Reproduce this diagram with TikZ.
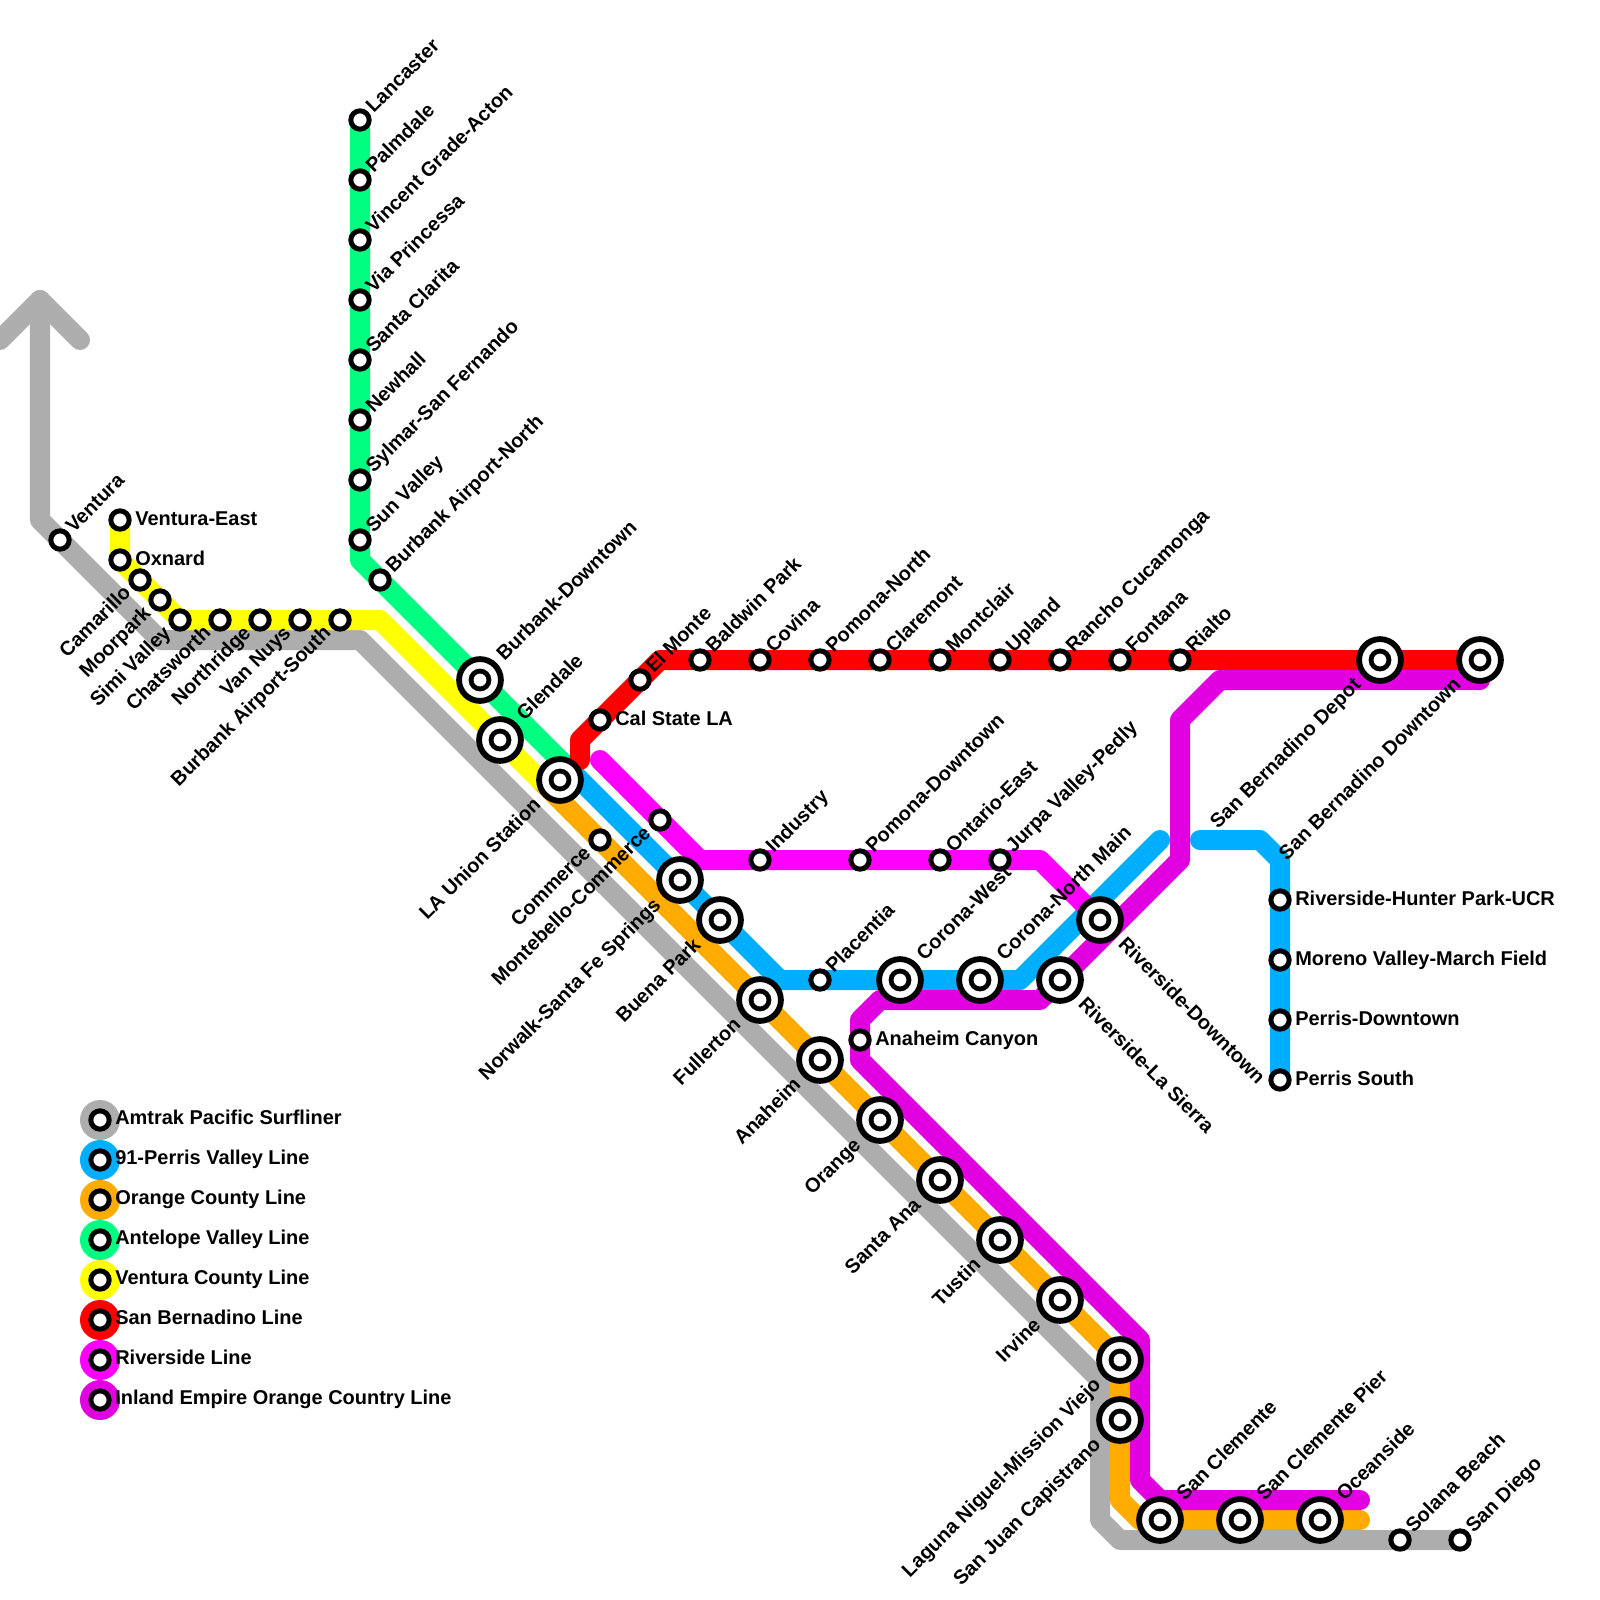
\documentclass[tikz,border=0pt]{standalone}
\usepackage{fontspec}
\setmainfont{Liberation Sans}
\usepackage{tikz}
\usetikzlibrary{backgrounds}
\usepackage{xcolor}
\definecolor{amtrak}{HTML}{ADADAD}
\definecolor{perris}{HTML}{00AEFF}
\definecolor{orangeco}{HTML}{FFAB00}
\definecolor{antelope}{HTML}{00FF80}
\definecolor{ventura}{HTML}{FFFF00}
\definecolor{sanbern}{HTML}{FF0000}
\definecolor{riverside}{HTML}{FF00FF}
\definecolor{inland}{HTML}{E000E0}

\begin{document}
\begin{tikzpicture}[
    x=0.025cm, y=-0.025cm,
    route/.style={draw, line width=0.5cm, line join=round, line cap=round},
    stop/.style={circle, draw=black, fill=white, line width=0.125cm, inner sep=0pt, outer sep=0pt, minimum size=0.458cm},
    hub/.style={circle, draw=black, fill=white, line width=0.145cm, inner sep=0pt, outer sep=0pt, minimum size=1.045cm,
      path picture={\fill[black] (path picture bounding box.center) circle (0.285cm);
        \fill[white] (path picture bounding box.center) circle (0.16cm);}},
    swatch/.style={circle, inner sep=0pt, outer sep=0pt, minimum size=1cm},
    lbl/.style={inner sep=0pt, font=\bfseries\fontsize{14.2}{16}\selectfont},
    lblne/.style={lbl, anchor=base west, xshift=0.34cm, yshift=0.15cm, rotate=45},
    lblsw/.style={lbl, anchor=base east, xshift=-0.2cm, yshift=-0.35cm, rotate=45},
    hubne/.style={lbl, anchor=base west, xshift=0.61cm, yshift=0.45cm, rotate=45},
    hubsw/.style={lbl, anchor=base east, xshift=-0.45cm, yshift=-0.65cm, rotate=45},
    hubse/.style={lbl, anchor=base west, xshift=0.43cm, yshift=-0.63cm, rotate=-45},
    lblr/.style={lbl, anchor=base west, xshift=0.375cm, yshift=-0.125cm},
    lblleg/.style={lbl, anchor=base west, xshift=0.375cm, yshift=-0.1cm}
  ]
  \useasboundingbox (0,0) rectangle (1600,1600);

  % Amtrak
  \node[stop] (vent) at (60,540) {};
  \node[lblne] (ventL) at (vent) {Ventura};
  \node[stop] (solana) at (1400,1540) {};
  \node[lblne] (solanaL) at (solana) {Solana Beach};
  \node[stop] (sandiego) at (1460,1540) {};
  \node[lblne] (sandiegoL) at (sandiego) {San Diego};

  % Ventura County
  \node[stop] (ventE) at (120,520) {};
  \node[lblr] (ventEL) at (ventE) {Ventura-East};
  \node[stop] (oxnard) at (120,560) {};
  \node[lblr] (oxnardL) at (oxnard) {Oxnard};
  \node[stop] (camarillo) at (140,580) {};
  \node[lblsw] (camarilloL) at (camarillo) {Camarillo};
  \node[stop] (moorpark) at (160,600) {};
  \node[lblsw] (moorparkL) at (moorpark) {Moorpark};
  \node[stop] (simi) at (180,620) {};
  \node[lblsw] (simiL) at (simi) {Simi Valley};
  \node[stop] (chats) at (220,620) {};
  \node[lblsw] (chatsL) at (chats) {Chatsworth};
  \node[stop] (north) at (260,620) {};
  \node[lblsw] (northL) at (north) {Northridge};
  \node[stop] (vannuys) at (300,620) {};
  \node[lblsw] (vannuysL) at (vannuys) {Van Nuys};
  \node[stop] (bursouth) at (340,620) {};
  \node[lblsw] (bursouthL) at (bursouth) {Burbank Airport-South};

  % Antelope Valley
  \node[stop] (lancaster) at (360,120) {};
  \node[lblne] (lancasterL) at (lancaster) {Lancaster};
  \node[stop] (palmdale) at (360,180) {};
  \node[lblne] (palmdaleL) at (palmdale) {Palmdale};
  \node[stop] (vincent) at (360,240) {};
  \node[lblne] (vincentL) at (vincent) {Vincent Grade-Acton};
  \node[stop] (princessa) at (360,300) {};
  \node[lblne] (princessaL) at (princessa) {Via Princessa};
  \node[stop] (clarita) at (360,360) {};
  \node[lblne] (claritaL) at (clarita) {Santa Clarita};
  \node[stop] (newhall) at (360,420) {};
  \node[lblne] (newhallL) at (newhall) {Newhall};
  \node[stop] (sylmar) at (360,480) {};
  \node[lblne] (sylmarL) at (sylmar) {Sylmar-San Fernando};
  \node[stop] (sunvalley) at (360,540) {};
  \node[lblne] (sunvalleyL) at (sunvalley) {Sun Valley};
  \node[stop] (burnorth) at (380,580) {};
  \node[lblne] (burnorthL) at (burnorth) {Burbank Airport-North};
  \node[hub] (burdown) at (480,680) {};
  \node[hubne] (burdownL) at (burdown) {Burbank-Downtown};
  \node[hub] (glendale) at (500,740) {};
  \node[hubne] (glendaleL) at (glendale) {Glendale};
  \node[hub] (union) at (560,780) {};
  \node[hubsw] (unionL) at (union) {LA Union Station};

  % San Bernadino
  \node[stop] (calstate) at (600,720) {};
  \node[lblr] (calstateL) at (calstate) {Cal State LA};
  \node[stop] (elmonte) at (640,680) {};
  \node[lblne] (elmonteL) at (elmonte) {El Monte};
  \node[stop] (baldwin) at (700,660) {};
  \node[lblne] (baldwinL) at (baldwin) {Baldwin Park};
  \node[stop] (covina) at (760,660) {};
  \node[lblne] (covinaL) at (covina) {Covina};
  \node[stop] (pomonaN) at (820,660) {};
  \node[lblne] (pomonaNL) at (pomonaN) {Pomona-North};
  \node[stop] (claremont) at (880,660) {};
  \node[lblne] (claremontL) at (claremont) {Claremont};
  \node[stop] (montclair) at (940,660) {};
  \node[lblne] (montclairL) at (montclair) {Montclair};
  \node[stop] (upland) at (1000,660) {};
  \node[lblne] (uplandL) at (upland) {Upland};
  \node[stop] (rancho) at (1060,660) {};
  \node[lblne] (ranchoL) at (rancho) {Rancho Cucamonga};
  \node[stop] (fontana) at (1120,660) {};
  \node[lblne] (fontanaL) at (fontana) {Fontana};
  \node[stop] (rialto) at (1180,660) {};
  \node[lblne] (rialtoL) at (rialto) {Rialto};
  \node[hub] (sbdepot) at (1380,660) {};
  \node[hubsw] (sbdepotL) at (sbdepot) {San Bernadino Depot};
  \node[hub] (sbdown) at (1480,660) {};
  \node[hubsw] (sbdownL) at (sbdown) {San Bernadino Downtown};

  % Riverside
  \node[stop] (commerce) at (600,840) {};
  \node[lblsw] (commerceL) at (commerce) {Commerce};
  \node[stop] (montebello) at (660,820) {};
  \node[lblsw] (montebelloL) at (montebello) {Montebello-Commerce};
  \node[stop] (industry) at (760,860) {};
  \node[lblne] (industryL) at (industry) {Industry};
  \node[stop] (pomonaD) at (860,860) {};
  \node[lblne] (pomonaDL) at (pomonaD) {Pomona-Downtown};
  \node[stop] (ontario) at (940,860) {};
  \node[lblne] (ontarioL) at (ontario) {Ontario-East};
  \node[stop] (jurupa) at (1000,860) {};
  \node[lblne] (jurupaL) at (jurupa) {Jurpa Valley-Pedly};
  \node[hub] (rivdown) at (1100,920) {};
  \node[hubse] (rivdownL) at (rivdown) {Riverside-Downtown};

  % 91-Perris Valley
  \node[hub] (norwalk) at (680,880) {};
  \node[hubsw] (norwalkL) at (norwalk) {Norwalk-Santa Fe Springs};
  \node[hub] (buena) at (720,920) {};
  \node[hubsw] (buenaL) at (buena) {Buena Park};
  \node[stop] (placentia) at (820,980) {};
  \node[lblne] (placentiaL) at (placentia) {Placentia};
  \node[hub] (coronaW) at (900,980) {};
  \node[hubne] (coronaWL) at (coronaW) {Corona-West};
  \node[hub] (coronaN) at (980,980) {};
  \node[hubne] (coronaNL) at (coronaN) {Corona-North Main};
  \node[hub] (rivsierra) at (1060,980) {};
  \node[hubse] (rivsierraL) at (rivsierra) {Riverside-La Sierra};
  \node[stop] (hunter) at (1280,900) {};
  \node[lblr] (hunterL) at (hunter) {Riverside-Hunter Park-UCR};
  \node[stop] (moreno) at (1280,960) {};
  \node[lblr] (morenoL) at (moreno) {Moreno Valley-March Field};
  \node[stop] (perrisD) at (1280,1020) {};
  \node[lblr] (perrisDL) at (perrisD) {Perris-Downtown};
  \node[stop] (perrisS) at (1280,1080) {};
  \node[lblr] (perrisSL) at (perrisS) {Perris South};

  % Orange County
  \node[stop] (canyon) at (860,1040) {};
  \node[lblr] (canyonL) at (canyon) {Anaheim Canyon};
  \node[hub] (fullerton) at (760,1000) {};
  \node[hubsw] (fullertonL) at (fullerton) {Fullerton};
  \node[hub] (anaheim) at (820,1060) {};
  \node[hubsw] (anaheimL) at (anaheim) {Anaheim};
  \node[hub] (orangest) at (880,1120) {};
  \node[hubsw] (orangestL) at (orangest) {Orange};
  \node[hub] (santaana) at (940,1180) {};
  \node[hubsw] (santaanaL) at (santaana) {Santa Ana};
  \node[hub] (tustin) at (1000,1240) {};
  \node[hubsw] (tustinL) at (tustin) {Tustin};
  \node[hub] (irvine) at (1060,1300) {};
  \node[hubsw] (irvineL) at (irvine) {Irvine};
  \node[hub] (laguna) at (1120,1360) {};
  \node[hubsw] (lagunaL) at (laguna) {Laguna Niguel-Mission Viejo};
  \node[hub] (capistrano) at (1120,1420) {};
  \node[hubsw] (capistranoL) at (capistrano) {San Juan Capistrano};
  \node[hub] (clemente) at (1160,1520) {};
  \node[hubne] (clementeL) at (clemente) {San Clemente};
  \node[hub] (pier) at (1240,1520) {};
  \node[hubne] (pierL) at (pier) {San Clemente Pier};
  \node[hub] (oceanside) at (1320,1520) {};
  \node[hubne] (oceansideL) at (oceanside) {Oceanside};

  % legend
  \node[swatch, fill=amtrak] (legA) at (100,1120) {};
  \node[stop] (legAs) at (legA) {};
  \node[lblleg] (legAt) at (legA) {Amtrak Pacific Surfliner};
  \node[swatch, fill=perris] (legB) at (100,1160) {};
  \node[stop] (legBs) at (legB) {};
  \node[lblleg] (legBt) at (legB) {91-Perris Valley Line};
  \node[swatch, fill=orangeco] (legC) at (100,1200) {};
  \node[stop] (legCs) at (legC) {};
  \node[lblleg] (legCt) at (legC) {Orange County Line};
  \node[swatch, fill=antelope] (legD) at (100,1240) {};
  \node[stop] (legDs) at (legD) {};
  \node[lblleg] (legDt) at (legD) {Antelope Valley Line};
  \node[swatch, fill=ventura] (legE) at (100,1280) {};
  \node[stop] (legEs) at (legE) {};
  \node[lblleg] (legEt) at (legE) {Ventura County Line};
  \node[swatch, fill=sanbern] (legF) at (100,1320) {};
  \node[stop] (legFs) at (legF) {};
  \node[lblleg] (legFt) at (legF) {San Bernadino Line};
  \node[swatch, fill=riverside] (legG) at (100,1360) {};
  \node[stop] (legGs) at (legG) {};
  \node[lblleg] (legGt) at (legG) {Riverside Line};
  \node[swatch, fill=inland] (legH) at (100,1400) {};
  \node[stop] (legHs) at (legH) {};
  \node[lblleg] (legHt) at (legH) {Inland Empire Orange Country Line};

  % ends and bends of the lines
  \coordinate (arrowL) at (0,340);
  \coordinate (arrowT) at (40,300);
  \coordinate (arrowR) at (80,340);
  \coordinate (grayA) at (40,520);
  \coordinate (grayB) at (160,640);
  \coordinate (grayC) at (360,640);
  \coordinate (grayD) at (1100,1380);
  \coordinate (grayE) at (1100,1520);
  \coordinate (grayF) at (1120,1540);
  \coordinate (blueA) at (560,760);
  \coordinate (blueB) at (780,980);
  \coordinate (blueC) at (1020,980);
  \coordinate (blueD) at (1160,840);
  \coordinate (blueE) at (1200,840);
  \coordinate (blueF) at (1260,840);
  \coordinate (blueG) at (1280,860);
  \coordinate (orangeA) at (540,780);
  \coordinate (orangeB) at (1120,1500);
  \coordinate (orangeC) at (1140,1520);
  \coordinate (orangeD) at (1360,1520);
  \coordinate (greenA) at (360,560);
  \coordinate (yellowA) at (180,620);
  \coordinate (yellowB) at (380,620);
  \coordinate (redA) at (580,760);
  \coordinate (redB) at (580,740);
  \coordinate (redC) at (660,660);
  \coordinate (magA) at (600,760);
  \coordinate (magB) at (700,860);
  \coordinate (magC) at (1040,860);
  \coordinate (inlA) at (1480,680);
  \coordinate (inlB) at (1220,680);
  \coordinate (inlC) at (1180,720);
  \coordinate (inlD) at (1180,860);
  \coordinate (inlE) at (1040,1000);
  \coordinate (inlF) at (880,1000);
  \coordinate (inlG) at (860,1020);
  \coordinate (inlH) at (860,1060);
  \coordinate (inlI) at (1140,1340);
  \coordinate (inlJ) at (1140,1480);
  \coordinate (inlK) at (1160,1500);
  \coordinate (inlL) at (1360,1500);

  \begin{scope}[on background layer]
    \draw[route, amtrak] (arrowL) -- (arrowT) -- (arrowR);
    \draw[route, amtrak] (arrowT) -- (grayA) -- (grayB) -- (grayC) -- (grayD) -- (grayE) -- (grayF) -- (sandiego.center);
    \draw[route, perris] (blueA) -- (blueB) -- (blueC) -- (blueD);
    \draw[route, perris] (blueE) -- (blueF) -- (blueG) -- (perrisS.center);
    \draw[route, orangeco] (orangeA) -- (laguna.center) -- (orangeB) -- (orangeC) -- (orangeD);
    \draw[route, antelope] (lancaster.center) -- (greenA) -- (blueA);
    \draw[route, ventura] (ventE.center) -- (oxnard.center) -- (yellowA) -- (yellowB) -- (orangeA);
    \draw[route, sanbern] (redA) -- (redB) -- (redC) -- (sbdown.center);
    \draw[route, riverside] (magA) -- (magB) -- (magC) -- (rivdown.center);
    \draw[route, inland] (inlA) -- (inlB) -- (inlC) -- (inlD) -- (inlE) -- (inlF) -- (inlG) -- (inlH) -- (inlI) -- (inlJ) -- (inlK) -- (inlL);
  \end{scope}
\end{tikzpicture}
\end{document}
